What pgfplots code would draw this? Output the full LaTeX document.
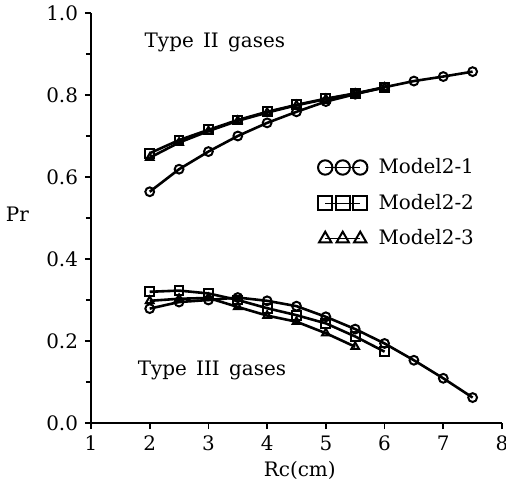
\documentclass[border=0pt]{standalone}
\usepackage{fontspec}
\setmainfont{DejaVu Serif}
\usepackage{pgfplots}
\pgfplotsset{compat=1.18}
\begin{document}
\begin{tikzpicture}[font=\fontsize{10}{12}\selectfont]
\useasboundingbox (-45.5bp,-32.5bp) rectangle (207.5bp,211.5bp);
\begin{axis}[
  at={(0,0)}, anchor=south west,
  scale only axis, width=205.5bp, height=205bp,
  xmin=1, xmax=8, ymin=0, ymax=1,
  axis x line*=bottom, axis y line*=left,
  xtick={1,2,3,4,5,6,7,8},
  ytick={0,0.2,0.4,0.6,0.8,1.0},
  minor ytick={0.1,0.3,0.5,0.7,0.9},
  tick align=outside,
  major tick length=3bp, minor tick length=2.5bp,
  axis line style={line width=1.1bp},
  every tick/.style={line width=0.8bp, black},
  /pgf/number format/assume math mode=true,
  yticklabel style={/pgf/number format/.cd, fixed, fixed zerofill, precision=1},
  xlabel={Rc(cm)}, ylabel={Pr},
  xlabel style={at={(axis description cs:0.508,-0.1146)}, anchor=center},
  ylabel style={rotate=-90, at={(axis description cs:-0.179,0.51)}, anchor=center},
  legend style={draw=none, fill=none, inner sep=0pt, at={(axis cs:4.86,0.656)}, anchor=north west, row sep=4.8bp, cells={anchor=west}, font=\fontsize{10}{12}\selectfont},
  legend image code/.code={\draw[mark repeat=1,mark phase=1,#1,line width=0.5bp,mark size=3.6bp] plot coordinates {(0bp,0bp)(8.75bp,0bp)(17.5bp,0bp)}; \path (24bp,0bp);},
  every axis plot/.append style={black, line width=1.3bp, mark size=2.2bp, mark options={solid, line width=1bp}},
]
% Type II gases
\addplot[mark=o] coordinates {(2,0.564) (2.5,0.619) (3,0.662) (3.5,0.700) (4,0.732) (4.5,0.759) (5,0.784) (5.5,0.802) (6,0.819) (6.5,0.834) (7,0.845) (7.5,0.857)};
\addlegendentry{Model2-1}
\addplot[mark=square] coordinates {(2,0.658) (2.5,0.690) (3,0.715) (3.5,0.739) (4,0.759) (4.5,0.776) (5,0.791) (5.5,0.804) (6,0.819)};
\addlegendentry{Model2-2}
\addplot[mark=triangle] coordinates {(2,0.647) (2.5,0.684) (3,0.712) (3.5,0.737) (4,0.757) (4.5,0.775) (5,0.790) (5.5,0.803) (6,0.818)};
\addlegendentry{Model2-3}
% Type III gases
\addplot[mark=o, forget plot] coordinates {(2,0.279) (2.5,0.295) (3,0.300) (3.5,0.306) (4,0.298) (4.5,0.285) (5,0.259) (5.5,0.229) (6,0.194) (6.5,0.153) (7,0.109) (7.5,0.062)};
\addplot[mark=square, forget plot] coordinates {(2,0.320) (2.5,0.323) (3,0.316) (3.5,0.300) (4,0.280) (4.5,0.263) (5,0.243) (5.5,0.211) (6,0.174)};
\addplot[mark=triangle, forget plot] coordinates {(2,0.298) (2.5,0.303) (3,0.305) (3.5,0.283) (4,0.262) (4.5,0.247) (5,0.219) (5.5,0.186)};
\node at (axis cs:3.11,0.927) {Type\hspace{1.5pt} II\hspace{1.5pt} gases};
\node at (axis cs:3.06,0.129) {Type\hspace{1.5pt} III\hspace{1.5pt} gases};
\end{axis}
\end{tikzpicture}
\end{document}
